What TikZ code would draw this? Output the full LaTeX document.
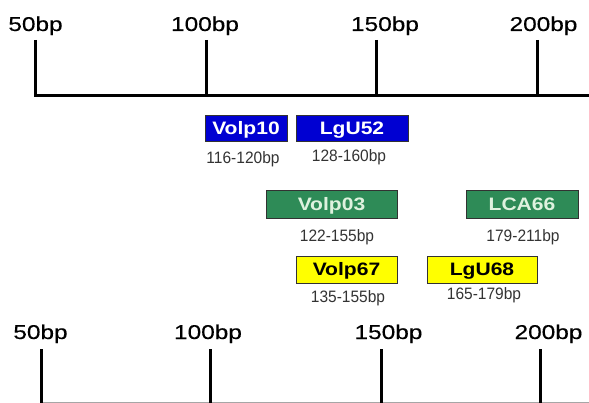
\documentclass[tikz,border=0pt]{standalone}
\usepackage{fontspec}
\setmainfont{Liberation Sans}
\newfontfamily\rulerfont{Liberation Sans}[FakeStretch=1.22,FakeBold=0.25]
\newfontfamily\boxfont{Liberation Sans Bold}[FakeStretch=1.17]
\newfontfamily\rangefont{Liberation Sans}[FakeStretch=0.94]
\definecolor{bblue}{RGB}{0,0,210}
\definecolor{bgreen}{RGB}{46,139,87}
\definecolor{bgtext}{RGB}{222,242,222}
\definecolor{byellow}{RGB}{255,255,0}
\definecolor{rangegray}{RGB}{51,51,51}
\definecolor{edgegray}{RGB}{50,50,50}
\tikzset{
  rulerlabel/.style={anchor=base, inner sep=0pt, font=\rulerfont\fontsize{20}{24}\selectfont},
  tickline/.style={line width=3pt},
  basegray/.style={line width=1pt, draw=gray!70},
  genebox/.style={draw=edgegray, line width=0.8pt, inner sep=0pt, text height=13pt, text depth=0pt,
    font=\boxfont\fontsize{18}{20}\selectfont},
  bluebox/.style={genebox, fill=bblue, text=white},
  greenbox/.style={genebox, fill=bgreen, text=bgtext},
  yellowbox/.style={genebox, fill=byellow, text=black},
  rangelabel/.style={anchor=base, inner sep=0pt, text=rangegray, font=\rangefont\fontsize{16.5}{18}\selectfont},
}
\begin{document}
\begin{tikzpicture}[x=1pt,y=-1pt]
\useasboundingbox (0,0) rectangle (589,403);
% top ruler
\node[rulerlabel] (l50a) at (35.5,31) {50bp};
\node[rulerlabel] (l100a) at (205,31) {100bp};
\node[rulerlabel] (l150a) at (385,31) {150bp};
\node[rulerlabel] (l200a) at (543.5,31) {200bp};
\coordinate (t50a) at (35.5,40);
\coordinate (b50a) at (35.5,96);
\coordinate (t100a) at (206,40);
\coordinate (b100a) at (206,96);
\coordinate (t150a) at (376,40);
\coordinate (b150a) at (376,96);
\coordinate (t200a) at (537,40);
\coordinate (b200a) at (537,96);
\coordinate (enda) at (589,96);
\draw[tickline] (t50a) -- (b50a) -- (enda);
\draw[tickline] (t100a) -- (b100a);
\draw[tickline] (t150a) -- (b150a);
\draw[tickline] (t200a) -- (b200a);
% gene boxes
\node[bluebox, minimum width=82pt, minimum height=26pt] (volp10) at (246,128.5) {Volp10};
\node[bluebox, minimum width=112pt, minimum height=26pt] (lgu52) at (352,128.5) {LgU52};
\node[rangelabel] (r116) at (243,164) {116-120bp};
\node[rangelabel] (r128) at (349,162) {128-160bp};
\node[greenbox, minimum width=131pt, minimum height=28pt] (volp03) at (331.5,204) {Volp03};
\node[greenbox, minimum width=112pt, minimum height=28pt] (lca66) at (522,204) {LCA66};
\node[rangelabel] (r122) at (337,242) {122-155bp};
\node[rangelabel] (r179) at (523,242) {179-211bp};
\node[yellowbox, minimum width=101pt, minimum height=27pt] (volp67) at (346.5,269.5) {Volp67};
\node[yellowbox, minimum width=110pt, minimum height=27pt] (lgu68) at (482,269.5) {LgU68};
\node[rangelabel] (r135) at (348,302) {135-155bp};
\node[rangelabel] (r165) at (484,300) {165-179bp};
% bottom ruler
\node[rulerlabel] (l50b) at (40.5,339) {50bp};
\node[rulerlabel] (l100b) at (208,339) {100bp};
\node[rulerlabel] (l150b) at (388.5,339) {150bp};
\node[rulerlabel] (l200b) at (548.5,339) {200bp};
\coordinate (t50b) at (41,349);
\coordinate (b50b) at (41,403);
\coordinate (t100b) at (210,349);
\coordinate (b100b) at (210,403);
\coordinate (t150b) at (381,349);
\coordinate (b150b) at (381,403);
\coordinate (t200b) at (540,349);
\coordinate (b200b) at (540,403);
\coordinate (startb) at (41,402.5);
\coordinate (endb) at (589,402.5);
\draw[basegray] (startb) -- (endb);
\draw[tickline] (t50b) -- (b50b);
\draw[tickline] (t100b) -- (b100b);
\draw[tickline] (t150b) -- (b150b);
\draw[tickline] (t200b) -- (b200b);
\end{tikzpicture}
\end{document}
